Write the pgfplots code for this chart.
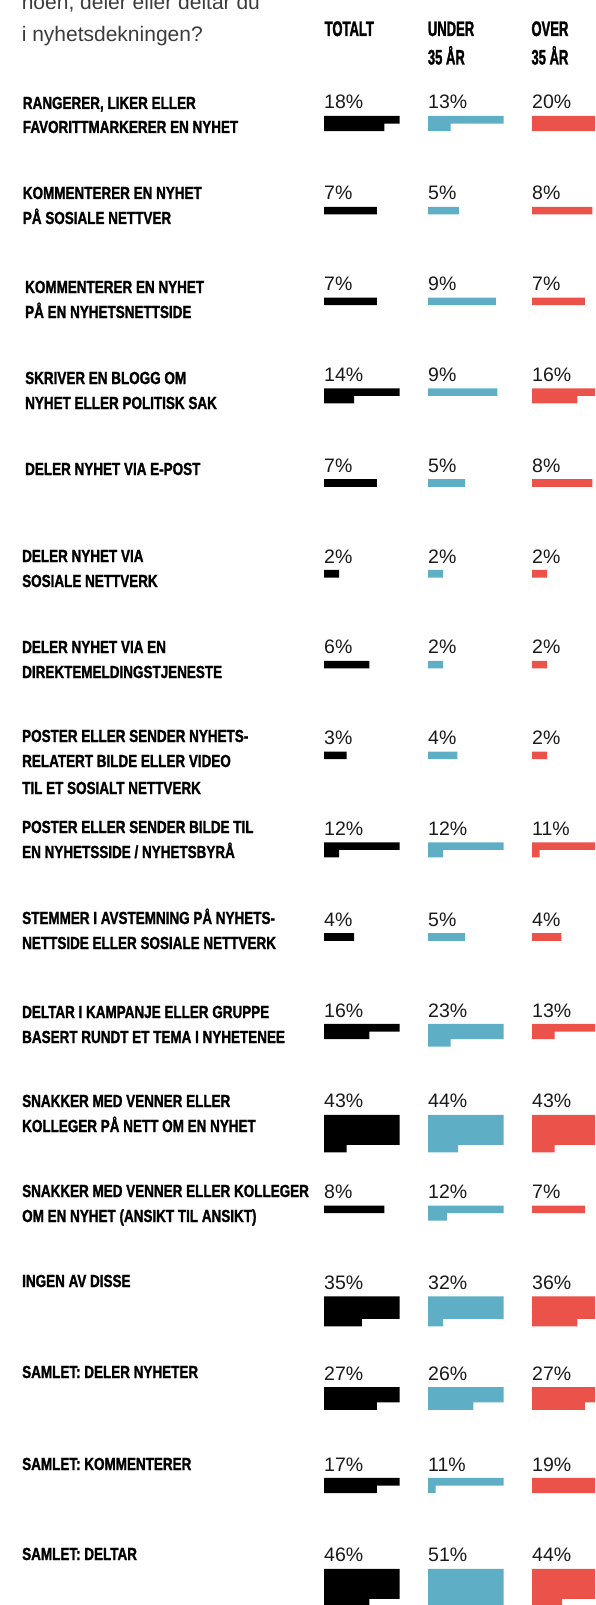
\documentclass[border=0pt]{standalone}
\usepackage{pgfplots}
\pgfplotsset{compat=1.18}
\usepackage{pgfplotstable}
\usepackage{fontspec}
\setmainfont{Liberation Sans}
\newfontfamily\labelfont[FakeStretch=0.77,FakeBold=1.4]{Liberation Sans}
\newfontfamily\headfont[FakeStretch=0.62,FakeBold=1.5]{Liberation Sans}

\definecolor{barblue}{HTML}{5EAFC6}
\definecolor{barred}{HTML}{EB524A}
\definecolor{titlegray}{HTML}{3C3C3C}

% each bar is drawn in rows of 10 %: cat = question (0 = top), row = row in the bar, w = width (10 = full row)
\pgfplotstableread{
cat row w
0 0 10
0 1 8
1 0 7
2 0 7
3 0 10
3 1 4
4 0 7
5 0 2
6 0 6
7 0 3
8 0 10
8 1 2
9 0 4
10 0 10
10 1 6
11 0 10
11 1 10
11 2 10
11 3 10
11 4 3
12 0 8
13 0 10
13 1 10
13 2 10
13 3 5
14 0 10
14 1 10
14 2 7
15 0 10
15 1 7
16 0 10
16 1 10
16 2 10
16 3 10
16 4 6
}\totalt

\pgfplotstableread{
cat row w
0 0 10
0 1 3
1 0 4.1
2 0 9
3 0 9.2
4 0 4.9
5 0 2
6 0 2
7 0 3.9
8 0 10
8 1 2
9 0 4.9
10 0 10
10 1 10
10 2 3
11 0 10
11 1 10
11 2 10
11 3 10
11 4 4
12 0 10
12 1 2.5
13 0 10
13 1 10
13 2 10
13 3 2
14 0 10
14 1 10
14 2 6
15 0 10
15 1 1
16 0 10
16 1 10
16 2 10
16 3 10
16 4 10
16 5 1
}\under

\pgfplotstableread{
cat row w
0 0 10
0 1 10
1 0 8
2 0 7
3 0 10
3 1 6
4 0 8
5 0 2
6 0 2
7 0 2
8 0 10
8 1 1
9 0 3.9
10 0 10
10 1 3
11 0 10
11 1 10
11 2 10
11 3 10
11 4 3
12 0 7
13 0 10
13 1 10
13 2 10
13 3 6
14 0 10
14 1 10
14 2 7
15 0 10
15 1 9
16 0 10
16 1 10
16 2 10
16 3 10
16 4 4
}\over

\pgfplotsset{
  barcol/.style={
    anchor=north west, scale only axis,
    height=1605pt, ymin=0, ymax=1605, y dir=reverse,
    xmin=0, hide axis, clip=true, enlargelimits=false,
    xbar, bar width=7.6pt, bar shift=0pt,
  },
}

\tikzset{
  lab/.style={anchor=base west, inner sep=0pt, font=\labelfont\bfseries\fontsize{17.5}{20}\selectfont},
  head/.style={anchor=base west, inner sep=0pt, font=\headfont\bfseries\fontsize{21}{25}\selectfont},
  pct/.style={anchor=base west, inner sep=0pt, text=black!90, font=\fontsize{19.5}{22}\selectfont},
}

\begin{document}
\begin{tikzpicture}[x=1pt, y=-1pt]
\useasboundingbox (0,0) rectangle (595,1605);

\begin{axis}[barcol, at={(324pt,0pt)}, width=75.5pt, xmax=10]
\addplot[fill=black, draw=none] table[x=w, y expr={119.75+90.8*\thisrow{cat}+7.5*\thisrow{row}}] {\totalt};
\end{axis}

\begin{axis}[barcol, at={(428pt,0pt)}, width=75.5pt, xmax=10]
\addplot[fill=barblue, draw=none] table[x=w, y expr={119.75+90.8*\thisrow{cat}+7.5*\thisrow{row}}] {\under};
\end{axis}

\begin{axis}[barcol, at={(532pt,0pt)}, width=63pt, xmax=8.344]
\addplot[fill=barred, draw=none] table[x=w, y expr={119.75+90.8*\thisrow{cat}+7.5*\thisrow{row}}] {\over};
\end{axis}

% question, cut at the top as in the original
\node[anchor=base west, inner sep=0pt, text=titlegray, font=\fontsize{21}{25}\selectfont] at (21.6,9.5) {noen, deler eller deltar du};
\node[anchor=base west, inner sep=0pt, text=titlegray, font=\fontsize{21}{25}\selectfont] at (21.6,41.7) {i nyhetsdekningen?};

% column heads
\node[head] at (324.5,36) {TOTALT};
\node[head] at (427.7,36) {UNDER};
\node[head] at (427.7,64.5) {35 ÅR};
\node[head] at (531.3,36) {OVER};
\node[head] at (531.3,64.5) {35 ÅR};

% percentages: question / totalt / under 35 / over 35
\foreach \i/\t/\u/\o in {0/18/13/20, 1/7/5/8, 2/7/9/7, 3/14/9/16, 4/7/5/8,
    5/2/2/2, 6/6/2/2, 7/3/4/2, 8/12/12/11, 9/4/5/4, 10/16/23/13,
    11/43/44/43, 12/8/12/7, 13/35/32/36, 14/27/26/27, 15/17/11/19, 16/46/51/44} {
  \pgfmathsetmacro\yb{109+90.8*\i}
  \node[pct] at (324,\yb) {\t\%};
  \node[pct] at (428,\yb) {\u\%};
  \node[pct] at (532,\yb) {\o\%};
}

% row labels
\node[lab] at (22.7,109) {RANGERER, LIKER ELLER};
\node[lab] at (22.7,133) {FAVORITTMARKERER EN NYHET};
\node[lab] at (22.7,199) {KOMMENTERER EN NYHET};
\node[lab] at (22.7,224) {PÅ SOSIALE NETTVER};
\node[lab] at (25,293) {KOMMENTERER EN NYHET};
\node[lab] at (25,318) {PÅ EN NYHETSNETTSIDE};
\node[lab] at (25,384) {SKRIVER EN BLOGG OM};
\node[lab] at (25,409) {NYHET ELLER POLITISK SAK};
\node[lab] at (25,475) {DELER NYHET VIA E-POST};
\node[lab] at (22,562) {DELER NYHET VIA};
\node[lab] at (22,587) {SOSIALE NETTVERK};
\node[lab] at (22,653) {DELER NYHET VIA EN};
\node[lab] at (22,678) {DIREKTEMELDINGSTJENESTE};
\node[lab] at (22,742) {POSTER ELLER SENDER NYHETS-};
\node[lab] at (22,767) {RELATERT BILDE ELLER VIDEO};
\node[lab] at (22,794) {TIL ET SOSIALT NETTVERK};
\node[lab] at (22,833) {POSTER ELLER SENDER BILDE TIL};
\node[lab] at (22,858) {EN NYHETSSIDE / NYHETSBYRÅ};
\node[lab] at (22,924) {STEMMER I AVSTEMNING PÅ NYHETS-};
\node[lab] at (22,949) {NETTSIDE ELLER SOSIALE NETTVERK};
\node[lab] at (22,1018) {DELTAR I KAMPANJE ELLER GRUPPE};
\node[lab] at (22,1043) {BASERT RUNDT ET TEMA I NYHETENEE};
\node[lab] at (22,1107) {SNAKKER MED VENNER ELLER};
\node[lab] at (22,1132) {KOLLEGER PÅ NETT OM EN NYHET};
\node[lab] at (22,1197) {SNAKKER MED VENNER ELLER KOLLEGER};
\node[lab] at (22,1222) {OM EN NYHET (ANSIKT TIL ANSIKT)};
\node[lab] at (22,1287) {INGEN AV DISSE};
\node[lab] at (22,1378) {SAMLET: DELER NYHETER};
\node[lab] at (22,1470) {SAMLET: KOMMENTERER};
\node[lab] at (22,1560) {SAMLET: DELTAR};
\end{tikzpicture}
\end{document}
